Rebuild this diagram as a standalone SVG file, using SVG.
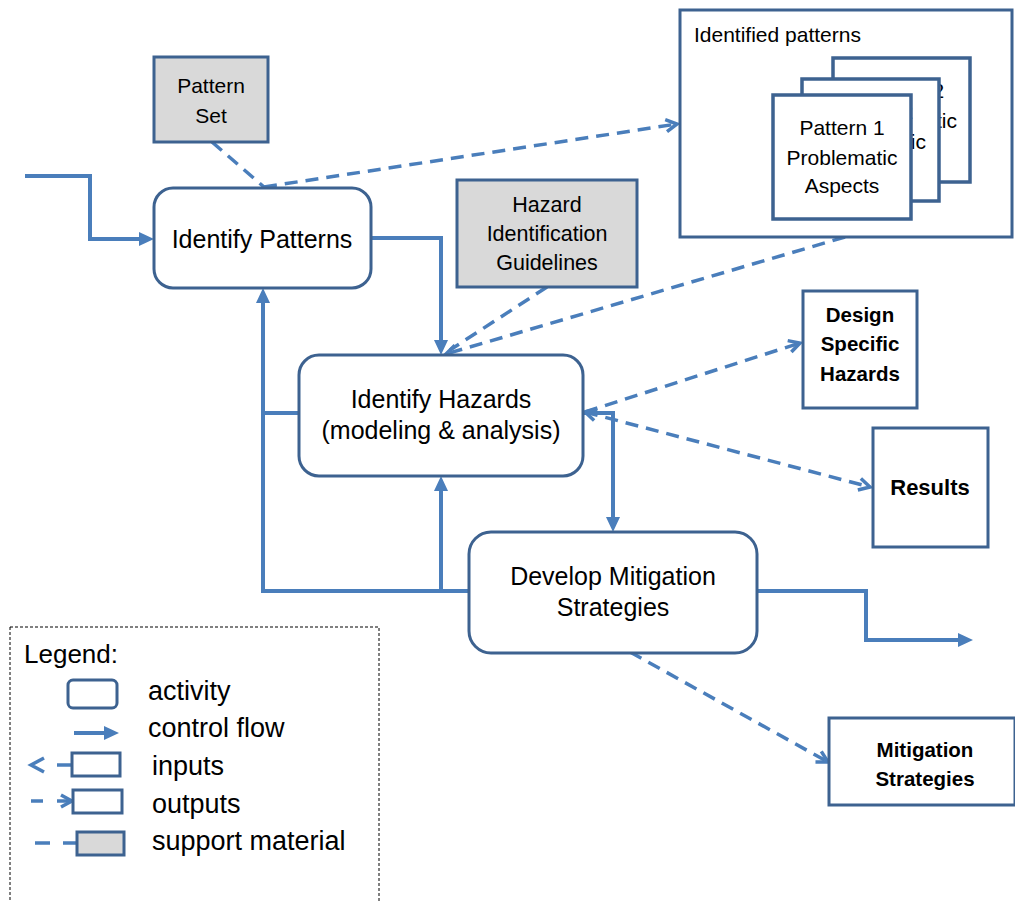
<svg xmlns="http://www.w3.org/2000/svg" width="1015" height="902" viewBox="0 0 1015 902">
<style>
text{font-family:"Liberation Sans",Arial,sans-serif;fill:#000}
.box{fill:#fff;stroke:#3d6290;stroke-width:3}
.sup{fill:#d9d9d9;stroke:#3d6290;stroke-width:3}
.card{fill:#fff;stroke:#3d6290;stroke-width:3.5}
.flow{fill:none;stroke:#4a7ebb;stroke-width:4}
.dash{fill:none;stroke:#4a7ebb;stroke-width:3.5;stroke-dasharray:13 8}
.b{font-weight:bold}
.c{text-anchor:middle}
</style>
<defs>
<marker id="fa" markerUnits="userSpaceOnUse" markerWidth="16" markerHeight="16" refX="0" refY="7" orient="auto" viewBox="0 0 16 14">
<path d="M0,0 L15,7 L0,14 z" fill="#4a7ebb"/>
</marker>
<marker id="oa" markerUnits="userSpaceOnUse" markerWidth="16" markerHeight="16" refX="13" refY="7" orient="auto-start-reverse" viewBox="0 0 16 14">
<path d="M2,1 L13,7 L2,13" fill="none" stroke="#4a7ebb" stroke-width="3.5"/>
</marker>
<clipPath id="clip3">
<rect x="940" y="58" width="32" height="126"/>
<rect x="831" y="56" width="141" height="22"/>
</clipPath>
<clipPath id="clip2">
<rect x="912" y="77" width="29" height="126"/>
<rect x="800" y="77" width="141" height="17"/>
</clipPath>
</defs>

<g id="connectors">
<path class="flow" d="M25,176 H90 V239 H139" marker-end="url(#fa)"/>
<path class="flow" d="M371,238 H441 V340" marker-end="url(#fa)"/>
<path class="flow" d="M469,591 H263 V303" marker-end="url(#fa)"/>
<path class="flow" d="M441,591 V491" marker-end="url(#fa)"/>
<path class="flow" d="M263,413 H299"/>
<path class="flow" d="M583,413 H613 V517" marker-end="url(#fa)"/>
<path class="flow" d="M757,591 H866 V640 H958" marker-end="url(#fa)"/>
<path class="dash" d="M212,142 L264,187"/>
<path class="dash" d="M264,187 L677,124" marker-end="url(#oa)"/>
<path class="dash" d="M845,237 L446,354" marker-end="url(#oa)"/>
<path class="dash" d="M547,287 L450,350"/>
<path class="dash" d="M585,412 L800,343" marker-end="url(#oa)"/>
<path class="dash" d="M585,412 L870,487" marker-start="url(#oa)" marker-end="url(#oa)"/>
<path class="dash" d="M630,652 L828,762" marker-end="url(#oa)"/>
</g>

<g id="pattern-set">
<rect class="sup" x="154" y="57" width="114" height="85"/>
<text class="c" x="211" y="93" font-size="21">Pattern</text>
<text class="c" x="211" y="123" font-size="21">Set</text>
</g>

<g id="identify-patterns">
<rect class="box" x="154" y="188" width="217" height="100" rx="19"/>
<text class="c" x="262" y="248" font-size="25">Identify Patterns</text>
</g>

<g id="hazard-guidelines">
<rect class="sup" x="457" y="180" width="180" height="107"/>
<text class="c" x="547" y="212" font-size="21.5">Hazard</text>
<text class="c" x="547" y="241" font-size="21.5">Identification</text>
<text class="c" x="547" y="270" font-size="21.5">Guidelines</text>
</g>

<g id="identified-patterns">
<rect class="box" x="680" y="10" width="332" height="227"/>
<text x="694" y="42" font-size="21">Identified patterns</text>
<g id="card3">
<rect class="card" x="833" y="58" width="137" height="124"/>
<g clip-path="url(#clip3)">
<text class="c" x="901.5" y="98" font-size="21">Pattern 2</text>
<text class="c" x="901.5" y="128" font-size="21">Problematic</text>
<text class="c" x="901.5" y="157" font-size="21">Aspects</text>
</g>
</g>
<g id="card2">
<rect class="card" x="802" y="79" width="137" height="122"/>
<g clip-path="url(#clip2)">
<text class="c" x="870.5" y="119" font-size="21">Pattern 2</text>
<text class="c" x="870.5" y="149" font-size="21">Problematic</text>
<text class="c" x="870.5" y="177" font-size="21">Aspects</text>
</g>
</g>
<g id="card1">
<rect class="card" x="773" y="95" width="138" height="124"/>
<text class="c" x="842" y="135" font-size="21">Pattern 1</text>
<text class="c" x="842" y="165" font-size="21">Problematic</text>
<text class="c" x="842" y="193" font-size="21">Aspects</text>
</g>
</g>

<g id="identify-hazards">
<rect class="box" x="299" y="355" width="284" height="121" rx="20"/>
<text class="c" x="441" y="408" font-size="25">Identify Hazards</text>
<text class="c" x="441" y="439" font-size="25">(modeling &amp; analysis)</text>
</g>

<g id="design-specific-hazards">
<rect class="box" x="803" y="291" width="114" height="117"/>
<text class="c b" x="860" y="322" font-size="20.5">Design</text>
<text class="c b" x="860" y="351" font-size="20.5">Specific</text>
<text class="c b" x="860" y="381" font-size="20.5">Hazards</text>
</g>

<g id="results">
<rect class="box" x="873" y="428" width="115" height="119"/>
<text class="c b" x="930" y="495" font-size="22">Results</text>
</g>

<g id="develop-mitigation">
<rect class="box" x="469" y="532" width="288" height="121" rx="22"/>
<text class="c" x="613" y="585" font-size="25">Develop Mitigation</text>
<text class="c" x="613" y="616" font-size="25">Strategies</text>
</g>

<g id="mitigation-strategies">
<rect class="box" x="829" y="718" width="186" height="87"/>
<text class="c b" x="925" y="757" font-size="20.5">Mitigation</text>
<text class="c b" x="925" y="786" font-size="20.5">Strategies</text>
</g>

<g id="legend">
<rect x="10" y="627" width="369" height="290" fill="none" stroke="#000" stroke-width="1" stroke-dasharray="3 2"/>
<text x="24" y="663" font-size="26">Legend:</text>
<rect class="box" x="68" y="680" width="49" height="28" rx="5"/>
<text x="148" y="700" font-size="27">activity</text>
<path class="flow" d="M74,733 H104" marker-end="url(#fa)"/>
<text x="148" y="737" font-size="27">control flow</text>
<path d="M44,758 L31,765 L44,772" fill="none" stroke="#4a7ebb" stroke-width="3.5"/>
<path d="M57,765 H72" fill="none" stroke="#4a7ebb" stroke-width="3.5"/>
<rect class="box" x="72" y="753" width="48" height="23"/>
<text x="152" y="775" font-size="27">inputs</text>
<path d="M31,801 H43" fill="none" stroke="#4a7ebb" stroke-width="3.5"/>
<path d="M57,801 H72" fill="none" stroke="#4a7ebb" stroke-width="3.5" marker-end="url(#oa)"/>
<rect class="box" x="73" y="790" width="49" height="23"/>
<text x="152" y="813" font-size="27">outputs</text>
<path d="M35,843 H50 M63,843 H77" fill="none" stroke="#4a7ebb" stroke-width="3.5"/>
<rect class="sup" x="77" y="832" width="47" height="23"/>
<text x="152" y="850" font-size="27">support material</text>
</g>
</svg>
